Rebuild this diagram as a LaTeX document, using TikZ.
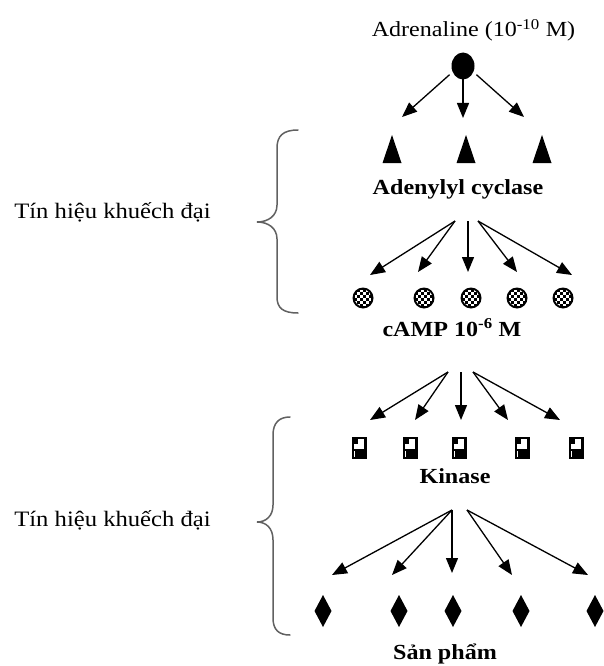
\documentclass[tikz,border=0pt]{standalone}
\usepackage{fontspec}
\setmainfont{Liberation Serif}[FakeStretch=1.12]
\usetikzlibrary{arrows.meta,shapes.geometric}

\tikzset{
  flow/.style={-{Triangle[length=15pt,width=12pt]}, line width=1.3pt},
  brace/.style={draw=black!62, line width=1.5pt, line cap=round},
  lbl/.style={font=\fontsize{21.5}{24}\selectfont, inner sep=0pt, anchor=base},
  blbl/.style={lbl, font=\fontsize{21.5}{24}\selectfont\bfseries},
  side/.style={lbl, font=\fontsize{22}{24}\selectfont},
  % enzyme: filled triangle, apex up (y axis points down)
  cyclase/.pic={\fill (-9.5,14) -- (9.5,14) -- (0,-14) -- cycle;},
  % second messenger: chequered disc
  camp/.pic={
    \fill (0,0) circle (10.5);
    \begin{scope}
      \clip (0,0) circle (8.4);
      \foreach \i in {0,...,5}{
        \foreach \j in {0,...,5}{
          \pgfmathtruncatemacro\cpar{mod(\i+\j,2)}
          \ifnum\cpar=0
            \fill[white] (-8.4+2.8*\i,-8.4+2.8*\j) rectangle +(2.8,2.8);
          \fi
        }
      }
    \end{scope}
  },
  % protein kinase: framed box, dark lower half
  kinase/.pic={
    \fill (-7.5,-11) rectangle (7.5,11);
    \fill[white] (-5.3,-8.8) rectangle (5.3,1);
    \fill (-5.3,-8.8) rectangle (-1.3,-3.8);
    \fill[white] (-5.3,2.5) rectangle (-4,8.8);
  },
  product/.pic={\fill (0,-16) -- (8.5,0) -- (0,16) -- (-8.5,0) -- cycle;}
}

\begin{document}
\begin{tikzpicture}[x=1pt,y=-1pt]
\useasboundingbox (0,0) rectangle (603,666);

% ---------- hormone ----------
\node[lbl] (adrtxt) at (473.5,37) {Adrenaline (10\textsuperscript{-10} M)};
\node[ellipse, fill, minimum width=23pt, minimum height=27pt, inner sep=0pt] (adr) at (463,66) {};

\coordinate (a1) at (402,117);
\coordinate (a2) at (463,118);
\coordinate (a3) at (524,117);
\draw[flow, shorten <=4pt] (adr.-150) -- (a1);
\draw[flow] (adr.center) -- (a2);
\draw[flow, shorten <=4pt] (adr.-30) -- (a3);

% ---------- adenylyl cyclase ----------
\foreach \x in {392,466,542} \pic at (\x,149) {cyclase};
\node[blbl] (ac) at (458,194) {Adenylyl cyclase};

\coordinate (acL) at (455,221);
\coordinate (acC) at (468,221);
\coordinate (acR) at (478,221);
\coordinate (b1) at (370,275);
\coordinate (b2) at (418,272);
\coordinate (b3) at (468,272);
\coordinate (b4) at (517,272);
\coordinate (b5) at (572,275);
\draw[flow] (acL) -- (b1);
\draw[flow] (acL) -- (b2);
\draw[flow] (acC) -- (b3);
\draw[flow] (acR) -- (b4);
\draw[flow] (acR) -- (b5);

% ---------- cAMP ----------
\foreach \x in {363,424,471,517,563} \pic at (\x,298) {camp};
\node[blbl] (camp) at (452,336) {cAMP 10\textsuperscript{-6} M};

\coordinate (cL) at (448,372);
\coordinate (cC) at (461,372);
\coordinate (cR) at (473,372);
\coordinate (k1) at (370,420);
\coordinate (k2) at (415,420);
\coordinate (k3) at (461,420);
\coordinate (k4) at (508,420);
\coordinate (k5) at (560,420);
\draw[flow] (cL) -- (k1);
\draw[flow] (cL) -- (k2);
\draw[flow] (cC) -- (k3);
\draw[flow] (cR) -- (k4);
\draw[flow] (cR) -- (k5);

% ---------- kinase ----------
\foreach \x in {359,410,459,522,576} \pic at (\x,448) {kinase};
\node[blbl] (kin) at (455,483) {Kinase};

\coordinate (kL) at (452,510);
\coordinate (kR) at (467,510);
\coordinate (p1) at (332,575);
\coordinate (p2) at (392,575);
\coordinate (p3) at (452,573);
\coordinate (p4) at (512,575);
\coordinate (p5) at (588,575);
\draw[flow] (kL) -- (p1);
\draw[flow] (kL) -- (p2);
\draw[flow] (kL) -- (p3);
\draw[flow] (kR) -- (p4);
\draw[flow] (kR) -- (p5);

% ---------- products ----------
\foreach \x in {323,399,453,521,595} \pic at (\x,611) {product};
\node[blbl] (prod) at (445,659) {Sản phẩm};

% ---------- amplification braces ----------
\draw[brace] (298,130) .. controls (283,130) and (277,136) .. (277,148) -- (277,205)
  .. controls (277,216) and (268,222) .. (257,222)
  .. controls (268,222) and (277,228) .. (277,239) -- (277,297)
  .. controls (277,308) and (283,313) .. (298,313);
\node[side] (amp1) at (112.5,218) {Tín hiệu khuếch đại};

\draw[brace] (290,417) .. controls (279,417) and (273,423) .. (273,435) -- (273,505)
  .. controls (273,516) and (266,522) .. (257,522)
  .. controls (266,522) and (273,528) .. (273,540) -- (273,618)
  .. controls (273,630) and (279,635) .. (290,635);
\node[side] (amp2) at (112.5,526) {Tín hiệu khuếch đại};
\end{tikzpicture}
\end{document}
